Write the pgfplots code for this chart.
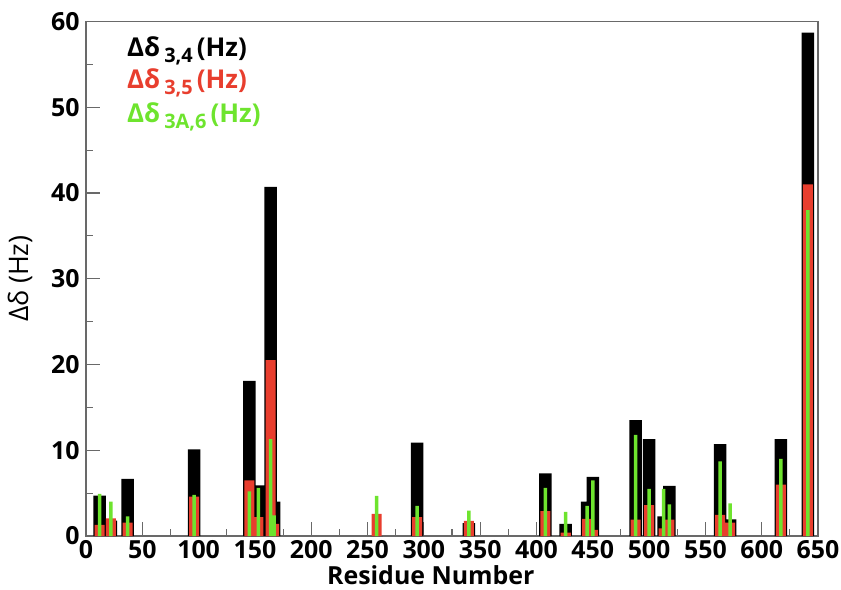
\documentclass[border=0pt]{standalone}
\usepackage{fontspec}
\setmainfont{Open Sans}
\usepackage{pgfplots}
\usepackage{pgfplotstable}
\pgfplotsset{compat=1.18}
\definecolor{barred}{RGB}{232,62,46}
\definecolor{bargreen}{RGB}{110,228,46}
\definecolor{axgray}{RGB}{105,105,105}

\pgfplotstableread{
res d34 d35 d3a6
12 4.7 1.3 4.9
22 1.8 2.06 4.0
37 6.65 1.55 2.3
96 10.1 4.6 4.8
145 18.1 6.5 5.2
153 5.9 2.2 5.6
164 40.7 20.5 11.3
167 4.0 1.4 2.4
258 0 2.57 4.67
294 10.9 2.2 3.5
340 1.5 1.75 2.95
408 7.3 2.9 5.6
426 1.4 0.4 2.8
445 4.0 2.0 3.5
450 6.9 0.7 6.5
488 13.5 1.9 11.8
500 11.3 3.6 5.5
513 2.3 0.9 5.5
518 5.85 1.9 3.7
563 10.7 2.45 8.7
572 1.95 1.55 3.8
617 11.3 6.0 9.0
641 58.7 41.0 38.0
}\data

\begin{document}
\begin{tikzpicture}
\useasboundingbox (-86bp,-54bp) rectangle (755bp,536bp);
\begin{axis}[
  at={(0,0)}, anchor=south west,
  scale only axis, width=732bp, height=514.5bp,
  xmin=0, xmax=650, ymin=0, ymax=60,
  xtick={0,50,...,650}, ytick={0,10,...,60},
  minor x tick num=1, minor y tick num=1,
  xtick pos=bottom, ytick pos=left, tick align=inside,
  major tick length=14bp, minor tick length=7bp,
  axis line style={axgray, line width=1.1bp},
  tick style={axgray, line width=1.1bp},
  tick label style={font=\fontsize{25}{30}\selectfont\bfseries},
  /pgf/number format/assume math mode=true,
  xticklabel style={anchor=base, yshift=-22bp},
  yticklabel style={anchor=east, xshift=-3bp},
  xlabel={Residue Number},
  xlabel style={font=\fontsize{25}{30}\selectfont\bfseries, at={(axis description cs:0.471,-0.0933)}, anchor=base, inner sep=0pt},
  ylabel={Δδ (Hz)},
  ylabel style={font=\fontsize{27}{32}\selectfont, at={(axis description cs:-0.0902,0.5)}, anchor=center},
]
\addplot[ybar, bar shift=0pt, bar width=11.1, fill=black, draw=none] table[x=res,y=d34]{\data};
\addplot[ybar, bar shift=0pt, bar width=8.9, fill=barred, draw=none] table[x=res,y=d35]{\data};
\addplot[ybar, bar shift=0pt, bar width=3.1, fill=bargreen, draw=none] table[x=res,y=d3a6]{\data};

\node[anchor=base west, inner sep=0, font=\fontsize{26}{30}\selectfont\bfseries, text=black]
  at (axis cs:36.4,55.97) {Δδ\hspace{4bp}\raisebox{-6bp}{\fontsize{20}{24}\selectfont 3,4}\hspace{4bp}(Hz)};
\node[anchor=base west, inner sep=0, font=\fontsize{26}{30}\selectfont\bfseries, text=barred]
  at (axis cs:36.4,52.13) {Δδ\hspace{4bp}\raisebox{-6bp}{\fontsize{20}{24}\selectfont 3,5}\hspace{4bp}(Hz)};
\node[anchor=base west, inner sep=0, font=\fontsize{26}{30}\selectfont\bfseries, text=bargreen]
  at (axis cs:36.4,48.28) {Δδ\hspace{4bp}\raisebox{-6bp}{\fontsize{20}{24}\selectfont 3A,6}\hspace{4bp}(Hz)};
\end{axis}
\end{tikzpicture}
\end{document}
